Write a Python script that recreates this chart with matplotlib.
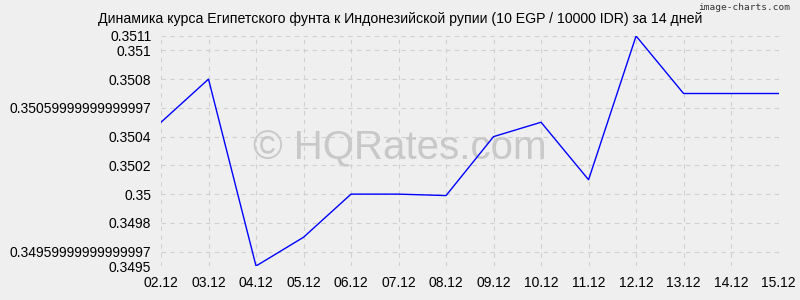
import matplotlib
matplotlib.use('Agg')
import matplotlib.pyplot as plt

dates = ['02.12', '03.12', '04.12', '05.12', '06.12', '07.12', '08.12',
         '09.12', '10.12', '11.12', '12.12', '13.12', '14.12', '15.12']
rates = [0.3505, 0.3508, 0.3495, 0.3497, 0.3500, 0.3500, 0.34999,
         0.3504, 0.3505, 0.3501, 0.3511, 0.3507, 0.3507, 0.3507]
y_ticks = [0.3495, 0.3496, 0.3498, 0.35, 0.3502, 0.3504, 0.3506, 0.3508, 0.351, 0.3511]
y_labels = ['0.3495', '0.34959999999999997', '0.3498', '0.35', '0.3502', '0.3504',
            '0.35059999999999997', '0.3508', '0.351', '0.3511']

plt.rcParams['font.family'] = ['Liberation Sans', 'DejaVu Sans']

fig = plt.figure(figsize=(8, 3), dpi=100, facecolor='#efefef')
ax = fig.add_axes([0.20125, 0.1133, 0.772, 0.7667])
ax.set_facecolor('#efefef')

x = list(range(len(dates)))
ax.plot(x, rates, color='#0000ff', linewidth=1, zorder=3)

ax.set_xlim(0, len(dates) - 1)
ax.set_ylim(0.3495, 0.3511)
ax.set_xticks(x)
ax.set_xticklabels(dates)
ax.set_yticks(y_ticks)
ax.set_yticklabels(y_labels)
ax.tick_params(length=0, labelsize=10, colors='#000000', pad=7)
ax.grid(True, color='#d0d0d0', linestyle=(0, (4, 4)), linewidth=0.8)
for s in ax.spines.values():
    s.set_visible(False)

# watermark behind the line
ax.text(0.5, 0.505, '© HQRates.com', transform=fig.transFigure, fontsize=29,
        color='#c8c8c8', ha='center', va='center', zorder=1)

fig.text(0.5, 0.937, 'Динамика курса Египетского фунта к Индонезийской рупии (10 EGP / 10000 IDR) за 14 дней',
         ha='center', va='center', fontsize=10.2, color='#000000')
fig.text(0.988, 0.975, 'image-charts.com', ha='right', va='center', fontsize=6.8,
         color='#333333', family='DejaVu Sans Mono')

plt.savefig('out.png', dpi=100, facecolor='#efefef')
